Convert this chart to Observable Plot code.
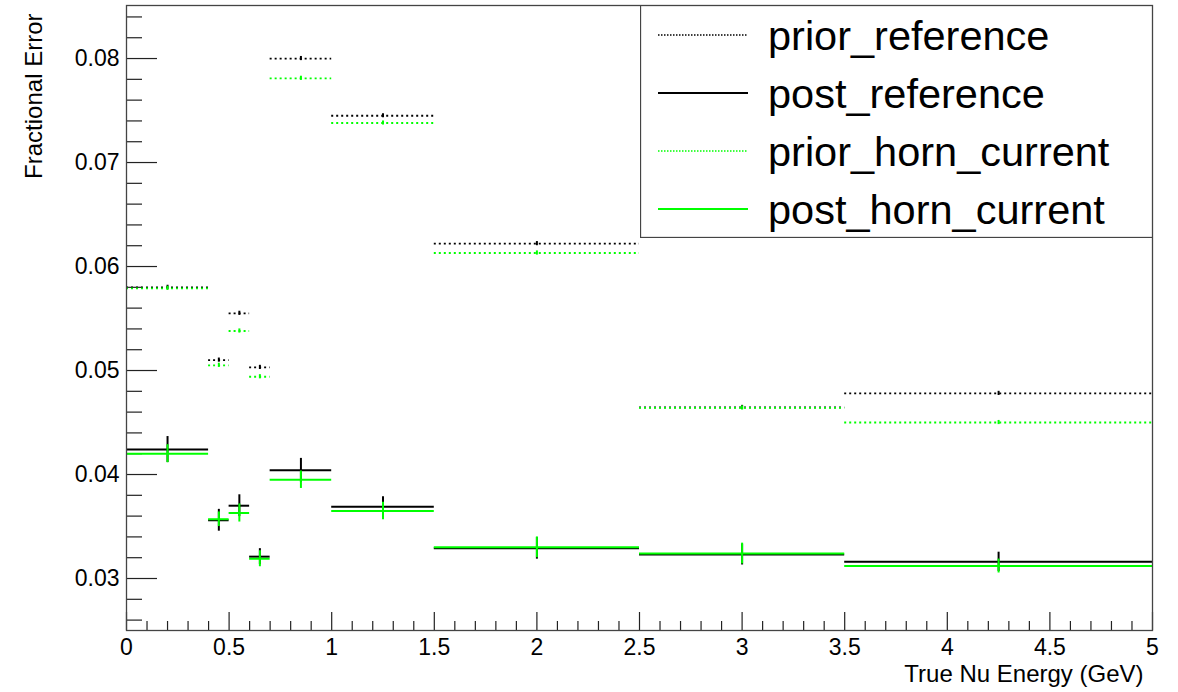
<!DOCTYPE html>
<html>
<head>
<meta charset="utf-8">
<script src="https://cdn.jsdelivr.net/npm/d3@7"></script>
<script src="https://cdn.jsdelivr.net/npm/@observablehq/plot@0.6"></script>
<style>
  body { margin: 0; background: #fff; }
  #wrap { position: relative; width: 1178px; height: 692px; font-family: "Liberation Sans", Arial, Helvetica, sans-serif; }
  #wrap svg { display: block; }
  #legend { position: absolute; left: 640px; top: 5px; }
</style>
</head>
<body>
<div id="wrap"></div>
<script>
// Bin edges in true neutrino energy (GeV)
const binEdges = [0, 0.4, 0.5, 0.6, 0.7, 1.0, 1.5, 2.5, 3.5, 5.0];

// Fractional errors per bin, with their statistical uncertainties
const priorReference     = [0.0580, 0.0510, 0.0555, 0.0503, 0.0800, 0.0745, 0.0622, 0.04645, 0.0478];
const priorReferenceErr  = [0.0002, 0.0002, 0.0002, 0.0002, 0.0002, 0.0002, 0.0002, 0.0002, 0.0002];
const postReference      = [0.0424, 0.0356, 0.0370, 0.0321, 0.0404, 0.0369, 0.0329, 0.0323, 0.0316];
const postReferenceErr   = [0.00125, 0.00105, 0.00105, 0.00077, 0.00115, 0.00096, 0.00104, 0.00100, 0.00093];
const priorHornCurrent    = [0.0579, 0.0505, 0.0538, 0.0494, 0.0781, 0.0738, 0.0613, 0.0464, 0.0450];
const priorHornCurrentErr = [0.0002, 0.0002, 0.0002, 0.0002, 0.0002, 0.0002, 0.0002, 0.0002, 0.0002];
const postHornCurrent     = [0.0420, 0.0357, 0.0363, 0.0319, 0.0395, 0.0365, 0.0330, 0.0324, 0.0312];
const postHornCurrentErr  = [0.00087, 0.00070, 0.00087, 0.00077, 0.00084, 0.00084, 0.00100, 0.00100, 0.00067];

const seriesNames  = ["prior_reference", "post_reference", "prior_horn_current", "post_horn_current"];
const seriesColors = ["#000000", "#000000", "#00ff00", "#00ff00"];
const seriesDotted = [true, false, true, false];
const seriesValues = [priorReference, postReference, priorHornCurrent, postHornCurrent];
const seriesErrors = [priorReferenceErr, postReferenceErr, priorHornCurrentErr, postHornCurrentErr];

// Axis ticks
const yMajorTicks = [0.03, 0.04, 0.05, 0.06, 0.07, 0.08];
const yMinorTicks = d3.range(13, 43).map(k => k * 0.002).filter(v => Math.round(v * 1000) % 10 !== 0);
const xMajorTicks = [0, 0.5, 1, 1.5, 2, 2.5, 3, 3.5, 4, 4.5, 5];
const xMinorTicks = d3.range(1, 50).map(k => k / 10).filter(v => Math.round(v * 10) % 5 !== 0);

const xTitle = "True Nu Energy (GeV)";
const yTitle = "Fractional Error";

// Layout
const W = 1178, H = 692;
const mL = 126, mR = 26, mT = 5, mB = 62;
const innerW = W - mL - mR, innerH = H - mT - mB;
const font = '"Liberation Sans", Arial, Helvetica, sans-serif';

// One row per (series, bin)
const rows = seriesNames.map((name, s) => binEdges.slice(0, -1).map((lo, i) => ({
  series: name,
  x1: lo,
  x2: binEdges[i + 1],
  xc: (lo + binEdges[i + 1]) / 2,
  v: seriesValues[s][i],
  e: seriesErrors[s][i]
})));

const seriesMarks = rows.flatMap((data, s) => {
  const stroke = seriesColors[s];
  const line = seriesDotted[s]
    ? Plot.ruleY(data, {y: "v", x1: "x1", x2: "x2", stroke, strokeWidth: 1.8, strokeDasharray: "2,3"})
    : Plot.ruleY(data, {y: "v", x1: "x1", x2: "x2", stroke, strokeWidth: 2});
  const err = Plot.ruleX(data, {x: "xc", y1: d => d.v - d.e, y2: d => d.v + d.e, stroke, strokeWidth: 2});
  return [line, err];
});

const chart = Plot.plot({
  width: W,
  height: H,
  marginLeft: mL,
  marginRight: mR,
  marginTop: mT,
  marginBottom: mB,
  style: {fontFamily: font, background: "#fff", overflow: "visible", color: "#000"},
  x: {domain: [0, 5]},
  y: {domain: [0.025, 0.0851]},
  marks: [
    // inward-facing ticks in the ROOT style
    Plot.tickY(yMinorTicks, {y: d => d, insetRight: innerW - 16, stroke: "#222", strokeWidth: 1.2}),
    Plot.tickY(yMajorTicks, {y: d => d, insetRight: innerW - 31, stroke: "#222", strokeWidth: 1.2}),
    Plot.tickX(xMinorTicks, {x: d => d, insetTop: innerH - 9, stroke: "#222", strokeWidth: 1.2}),
    Plot.tickX(xMajorTicks, {x: d => d, insetTop: innerH - 18, stroke: "#222", strokeWidth: 1.2}),
    Plot.axisY({ticks: yMajorTicks, tickSize: 0, tickPadding: 7, fontSize: 23, label: null, tickFormat: d3.format(".2f")}),
    Plot.axisX({ticks: xMajorTicks, tickSize: 0, tickPadding: 8, fontSize: 23, label: null, tickFormat: d3.format("~g")}),
    ...seriesMarks,
    Plot.frame({stroke: "#444", strokeWidth: 1.3}),
    Plot.text([xTitle], {text: d => d, frameAnchor: "bottom-right", textAnchor: "end", lineAnchor: "middle", dx: -9, dy: 44, fontSize: 24}),
    Plot.text([yTitle], {text: d => d, frameAnchor: "top-left", textAnchor: "end", lineAnchor: "middle", rotate: -90, dx: -92, dy: 8, fontSize: 24})
  ]
});

const wrap = document.getElementById("wrap");
wrap.appendChild(chart);

// Legend box drawn over the upper-right corner of the frame
const legW = 512, legH = 232;
const legend = d3.select(wrap).append("svg")
  .attr("id", "legend")
  .attr("width", legW + 1)
  .attr("height", legH + 1)
  .style("font-family", font);
legend.append("rect")
  .attr("x", 0.5).attr("y", 0.5)
  .attr("width", legW).attr("height", legH)
  .attr("fill", "#fff").attr("stroke", "#444").attr("stroke-width", 1.3);
const entry = legend.selectAll("g.entry").data(seriesNames).join("g")
  .attr("class", "entry")
  .attr("transform", (d, i) => `translate(0,${30 + i * 58})`);
entry.append("line")
  .attr("x1", 18).attr("x2", 108).attr("y1", 0).attr("y2", 0)
  .attr("stroke", (d, i) => seriesColors[i])
  .attr("stroke-width", (d, i) => seriesDotted[i] ? 1.3 : 1.8)
  .attr("stroke-dasharray", (d, i) => seriesDotted[i] ? "1.5,1.5" : null);
entry.append("text")
  .attr("x", 128).attr("y", 0)
  .attr("dy", "0.35em")
  .attr("font-size", 41.5)
  .attr("fill", "#000")
  .text(d => d);
</script>
</body>
</html>
